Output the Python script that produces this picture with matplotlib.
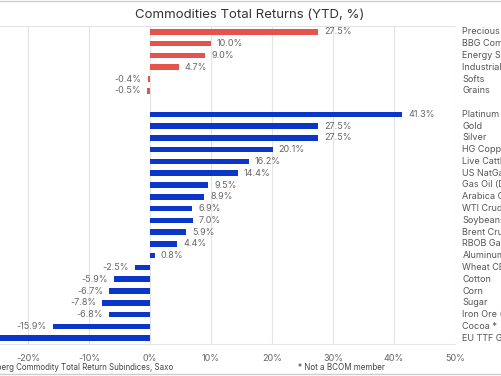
import matplotlib
matplotlib.use("Agg")
import matplotlib.pyplot as plt
from matplotlib.lines import Line2D

plt.rcParams['font.family'] = ['Inter', 'DejaVu Sans']

# sector indices (red)
sectors = ["Precious Metals", "BBG Commodity", "Energy Sector", "Industrial Metals", "Softs", "Grains"]
sector_vals = [27.5, 10.0, 9.0, 4.7, -0.4, -0.5]

# single commodities (blue)
commodities = ["Platinum *", "Gold", "Silver", "HG Copper", "Live Cattle", "US NatGas",
               "Gas Oil (Diesel)", "Arabica Coffee", "WTI Crude", "Soybeans", "Brent Crude",
               "RBOB Gasoline", "Aluminum", "Wheat CBOT", "Cotton", "Corn", "Sugar",
               "Iron Ore (SGX) *", "Cocoa *", "EU TTF Gas *"]
commodity_vals = [41.3, 27.5, 27.5, 20.1, 16.2, 14.4, 9.5, 8.9, 6.9, 7.0, 5.9, 4.4, 0.8,
                  -2.5, -5.9, -6.7, -7.8, -6.8, -15.9, -29.0]

xticks = [-20, -10, 0, 10, 20, 30, 40, 50]

red = "#E5534B"
blue = "#0B36C8"
grey_txt = "#666666"

W, H = 501, 376
fig = plt.figure(figsize=(W / 100, H / 100), dpi=100)

# axes positioned in pixels: 0% at x=150, 6.1 px per 1%
x0_px, ppu = 150, 6.1
xmin, xmax = -30, 50
left_px = x0_px + xmin * ppu
right_px = x0_px + xmax * ppu
top_px, bot_px = 26, 344
ax = fig.add_axes([left_px / W, 1 - bot_px / H, (right_px - left_px) / W, (bot_px - top_px) / H])

n_rows = len(sectors) + 1 + len(commodities)
ys_sec = list(range(len(sectors)))
ys_com = [len(sectors) + 1 + i for i in range(len(commodities))]

ax.barh(ys_sec, sector_vals, height=0.47, color=red, zorder=3)
ax.barh(ys_com, commodity_vals, height=0.47, color=blue, zorder=3)

for y, v in list(zip(ys_sec, sector_vals)) + list(zip(ys_com, commodity_vals)):
    if v >= 0:
        ax.text(v + 1.0, y, f"{v:.1f}%", va="center", ha="left", fontsize=6.5, color=grey_txt)
    else:
        ax.text(v - 1.0, y, f"{v:.1f}%", va="center", ha="right", fontsize=6.5, color=grey_txt)

ax.set_xlim(xmin, xmax)
ax.set_ylim(n_rows - 0.5, -0.5)
ax.set_yticks([])
ax.set_xticks(xticks)
ax.set_xticklabels([f"{t}%" for t in xticks])
ax.tick_params(axis="x", length=0, labelsize=6.5, labelcolor=grey_txt, pad=7)
ax.grid(axis="x", color="#e4e4e4", linewidth=0.8, zorder=0)
for s in ["left", "right"]:
    ax.spines[s].set_visible(False)
for s in ["top", "bottom"]:
    ax.spines[s].set_color("#e4e4e4")
    ax.spines[s].set_linewidth(0.8)

# category names on the right, cut by the figure edge like the reference crop
for y, name in list(zip(ys_sec, sectors)) + list(zip(ys_com, commodities)):
    ax.text(51.2, y, name, va="center", ha="left", fontsize=6.5, color="#555555", clip_on=False)

fig.text(250 / W, 1 - 15 / H, "Commodities Total Returns (YTD, %)", ha="center", va="center",
         fontsize=9.5, color="#333333")
fig.text(173 / W, 1 - 367 / H, "Source: Bloomberg Commodity Total Return Subindices, Saxo",
         ha="right", va="center", fontsize=5.7, color="#444444")
fig.text(298 / W, 1 - 367 / H, "* Not a BCOM member", ha="left", va="center",
         fontsize=5.8, color="#444444")

# outer frame lines at top and bottom
fig.add_artist(Line2D([0, 1], [1 - 0.5 / H, 1 - 0.5 / H], transform=fig.transFigure, color="#cccccc", lw=1))
fig.add_artist(Line2D([0, 1], [1 - 374 / H, 1 - 374 / H], transform=fig.transFigure, color="#cccccc", lw=1))

fig.savefig("out.png", dpi=100)
